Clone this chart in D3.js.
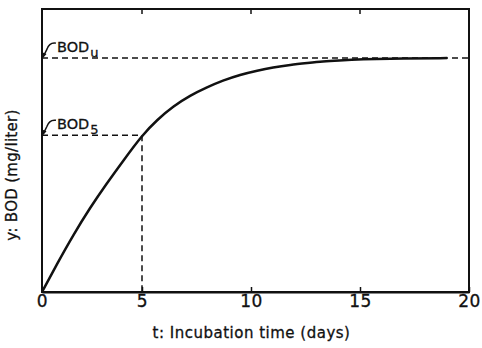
<!DOCTYPE html>
<html>
<head>
<meta charset="utf-8">
<script src="https://cdn.jsdelivr.net/npm/d3@7"></script>
<style>
  body { margin: 0; background: #fff; }
  svg { display: block; }
  text { font-family: "DejaVu Sans", Verdana, sans-serif; fill: #111; stroke: #111; stroke-width: 0.3px; }
</style>
</head>
<body>
<div id="chart"></div>
<script>
// values (BOD in arbitrary mg/liter units, BODu = 10)
const timeDays = [0, 0.75, 1.55, 2.4, 3.25, 4.05, 5, 5.7, 6.45, 7.2, 8, 8.7, 9.5, 10.3, 11, 11.8, 12.6, 13.3, 14, 15, 17, 19];
const bodValues = [0, 1.2, 2.42, 3.6, 4.66, 5.6, 6.7, 7.37, 7.95, 8.4, 8.76, 9.04, 9.29, 9.47, 9.6, 9.71, 9.79, 9.86, 9.9, 9.95, 9.99, 10];
const xTicks = [0, 5, 10, 15, 20];
const bodU = 10;
const bod5 = 6.7;
const t5 = 5;

const W = 482, H = 348;
const svg = d3.select("#chart").append("svg")
    .attr("width", W)
    .attr("height", H);

svg.append("rect").attr("width", W).attr("height", H).attr("fill", "#fff");

// the printed axis is slightly stretched after t = 5
const xScale = d3.scaleLinear().domain([0, 5, 20]).range([42, 142, 469]);
const yScale = d3.scaleLinear().domain([0, 12.1]).range([292, 9]);

const x0 = xScale(0), x1 = xScale(20), y0 = yScale(0), y1 = yScale(12.1);

// frame
svg.append("rect")
    .attr("x", x0).attr("y", y1)
    .attr("width", x1 - x0).attr("height", y0 - y1)
    .attr("fill", "none").attr("stroke", "#111").attr("stroke-width", 2);

// bottom axis, ticks pointing inward
const xAxisG = svg.append("g")
    .attr("transform", "translate(0," + y0 + ")")
    .call(d3.axisBottom(xScale).tickValues(xTicks).tickSizeInner(-5).tickSizeOuter(0).tickFormat(d3.format("d")));
xAxisG.select(".domain").attr("stroke", "#111").attr("stroke-width", 2);
xAxisG.selectAll(".tick line").attr("stroke", "#111").attr("stroke-width", 1.5);
xAxisG.selectAll(".tick text")
    .attr("y", 3).attr("dy", "0.71em")
    .style("font-size", "17px")
    .style("letter-spacing", "0.5px")
    .style("font-family", "'DejaVu Sans', Verdana, sans-serif")
    .attr("fill", "#111");

// top ticks
svg.append("g").selectAll("line")
    .data([5, 10, 15])
    .join("line")
    .attr("x1", d => xScale(d)).attr("x2", d => xScale(d))
    .attr("y1", y1).attr("y2", y1 + 5)
    .attr("stroke", "#111").attr("stroke-width", 1.5);

// dashed guides
const dashStyle = sel => sel.attr("stroke", "#111").attr("stroke-width", 1.5)
    .attr("stroke-dasharray", "6,4").attr("fill", "none");

svg.append("line")
    .attr("x1", x0).attr("x2", x1)
    .attr("y1", yScale(bodU)).attr("y2", yScale(bodU))
    .call(dashStyle);

svg.append("line")
    .attr("x1", x0).attr("x2", xScale(t5))
    .attr("y1", yScale(bod5)).attr("y2", yScale(bod5))
    .call(dashStyle);

svg.append("line")
    .attr("x1", xScale(t5)).attr("x2", xScale(t5))
    .attr("y1", yScale(bod5)).attr("y2", y0)
    .call(dashStyle);

// BOD curve
const line = d3.line()
    .x((d, i) => xScale(timeDays[i]))
    .y(d => yScale(d))
    .curve(d3.curveBasis);

svg.append("path")
    .datum(bodValues)
    .attr("d", line)
    .attr("fill", "none")
    .attr("stroke", "#111")
    .attr("stroke-width", 2.5);

// labels with hooked leader arrows
function leaderLabel(value, sub) {
    const yy = yScale(value);
    const g = svg.append("g");
    g.append("path")
        .attr("d", `M${x0 + 14},${yy - 15} C${x0 + 8},${yy - 16} ${x0 + 6},${yy - 12} ${x0 + 5},${yy - 9} L${x0 + 2},${yy - 3}`)
        .attr("fill", "none").attr("stroke", "#111").attr("stroke-width", 1.5);
    g.append("path")
        .attr("d", `M${x0 + 1},${yy} L${x0 - 0.5},${yy - 6} L${x0 + 4.5},${yy - 4} Z`)
        .attr("fill", "#111");
    const t = g.append("text")
        .attr("x", x0 + 15).attr("y", yy - 6)
        .style("font-size", "14.5px")
        .text("BOD");
    t.append("tspan")
        .attr("dx", 1)
        .attr("dy", 4.5)
        .style("font-size", "13px")
        .text(sub);
}
leaderLabel(bodU, "u");
leaderLabel(bod5, "5");

// axis titles
svg.append("text")
    .attr("x", (x0 + x1) / 2 - 4).attr("y", 338)
    .attr("text-anchor", "middle")
    .style("font-size", "15px")
    .style("letter-spacing", "0.5px")
    .text("t: Incubation time (days)");

svg.append("text")
    .attr("transform", "translate(17,175) rotate(-90)")
    .attr("text-anchor", "middle")
    .style("font-size", "15px")
    .style("letter-spacing", "0.3px")
    .text("y: BOD (mg/liter)");
</script>
</body>
</html>
